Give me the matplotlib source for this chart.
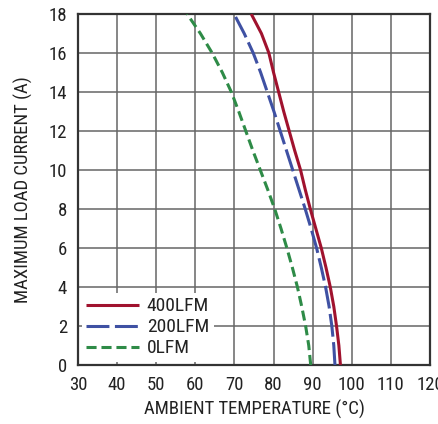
import matplotlib
matplotlib.use("Agg")
import matplotlib.pyplot as plt

plt.rcParams['font.family'] = ['Roboto Condensed', 'Liberation Sans Narrow', 'Liberation Sans', 'DejaVu Sans']

current = [0, 1, 2, 3, 4, 5, 6, 7, 8, 9, 10, 11, 12, 13, 14, 15, 16, 17, 18]
temp_400 = [97.1, 96.7, 96.1, 95.4, 94.5, 93.4, 92.2, 90.8, 89.4, 88.1, 86.9,
            85.4, 84.0, 82.6, 81.3, 80.0, 78.8, 76.9, 74.3]
temp_200 = [95.7, 95.4, 94.9, 94.2, 93.3, 92.2, 91.0, 89.6, 88.1, 86.5, 84.9,
            83.3, 81.7, 80.1, 78.4, 76.7, 74.8, 72.5, 69.9]
temp_0 = [89.5, 89.0, 88.2, 87.2, 86.1, 84.8, 83.4, 81.9, 80.3, 78.5, 76.6,
          74.7, 72.9, 71.1, 69.2, 66.9, 64.3, 61.3, 57.9]
labels = ['400LFM', '200LFM', '0LFM']
xticks = [30, 40, 50, 60, 70, 80, 90, 100, 110, 120]
yticks = [0, 2, 4, 6, 8, 10, 12, 14, 16, 18]

fig = plt.figure(figsize=(4.39, 4.24), dpi=100)
ax = fig.add_axes([78/439, 1-365/424, (430-78)/439, (365-14)/424])

ax.plot(temp_400, current, color='#A0122E', lw=2.2, solid_capstyle='butt', label=labels[0], zorder=3)
ax.plot(temp_200, current, color='#3F51A3', lw=2.2, dashes=(7.5, 1.8), label=labels[1], zorder=3)
ax.plot(temp_0, current, color='#2E8B47', lw=2.2, dashes=(3.3, 1.6), label=labels[2], zorder=3)

ax.set_xlim(30, 120)
ax.set_ylim(0, 18)
ax.set_xticks(xticks)
ax.set_yticks(yticks)
ax.grid(True, color='#666666', lw=1.1)
ax.set_axisbelow(True)
ax.tick_params(length=0, labelsize=13.5, colors='#222222', pad=8)
for s in ax.spines.values():
    s.set_color('#333333')
    s.set_linewidth(1.6)

ax.set_xlabel('AMBIENT TEMPERATURE (°C)', fontsize=13.5, color='#222222', labelpad=4)
ax.set_ylabel('MAXIMUM LOAD CURRENT (A)', fontsize=13.5, color='#222222', labelpad=11)

leg = ax.legend(loc='lower left', bbox_to_anchor=(0.01, 0.008), frameon=True, fancybox=False,
                edgecolor='none', facecolor='white', framealpha=1, fontsize=14,
                handlelength=2.7, handletextpad=0.4, labelspacing=0.15, borderpad=0.25,
                borderaxespad=0)
for t in leg.get_texts():
    t.set_color('#222222')

fig.savefig('out.png', dpi=100)
